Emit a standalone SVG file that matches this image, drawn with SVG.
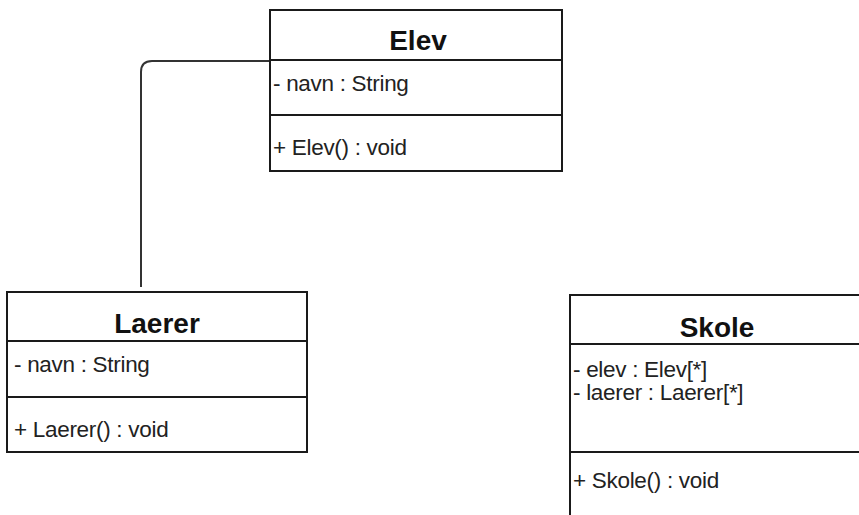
<svg xmlns="http://www.w3.org/2000/svg" width="859" height="515" viewBox="0 0 859 515">
  <style>
    .box { fill: #ffffff; stroke: #1a1a1a; stroke-width: 2; }
    .div { stroke: #1a1a1a; stroke-width: 2; }
    .title { font-family: "Liberation Sans", Arial, sans-serif; font-weight: bold; font-size: 28px; fill: #111; text-anchor: middle; }
    .txt { font-family: "Liberation Sans", Arial, sans-serif; font-size: 22.5px; fill: #222; letter-spacing: -0.3px; }
    .edge { fill: none; stroke: #333; stroke-width: 2; }
  </style>
  <rect width="859" height="515" fill="#ffffff"/>

  <g id="connectors">
    <path class="edge" d="M270,61 H152 Q141,61 141,72 V287"/>
  </g>

  <g id="elev">
    <rect class="box" x="270" y="10" width="292" height="161"/>
    <line class="div" x1="270" y1="60" x2="562" y2="60"/>
    <line class="div" x1="270" y1="115" x2="562" y2="115"/>
    <text class="title" x="418" y="50">Elev</text>
    <text class="txt" x="273" y="91">- navn : String</text>
    <text class="txt" x="273" y="155">+ Elev() : void</text>
  </g>

  <g id="laerer">
    <rect class="box" x="7" y="292" width="300" height="160"/>
    <line class="div" x1="7" y1="341" x2="307" y2="341"/>
    <line class="div" x1="7" y1="397" x2="307" y2="397"/>
    <text class="title" x="157" y="333">Laerer</text>
    <text class="txt" x="14" y="372">- navn : String</text>
    <text class="txt" x="14" y="437">+ Laerer() : void</text>
  </g>

  <g id="skole">
    <rect class="box" x="570" y="295" width="300" height="240"/>
    <line class="div" x1="570" y1="344" x2="870" y2="344"/>
    <line class="div" x1="570" y1="452" x2="870" y2="452"/>
    <text class="title" x="717" y="337">Skole</text>
    <text class="txt" x="573" y="377">- elev : Elev[*]</text>
    <text class="txt" x="573" y="400">- laerer : Laerer[*]</text>
    <text class="txt" x="573" y="488">+ Skole() : void</text>
  </g>
</svg>
